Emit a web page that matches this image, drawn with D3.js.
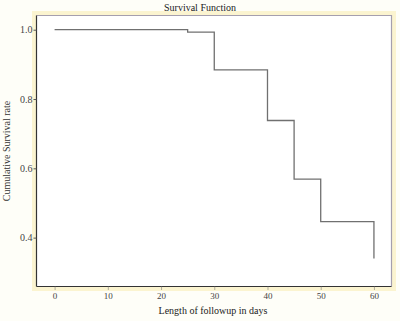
<!DOCTYPE html>
<html>
<head>
<meta charset="utf-8">
<script src="https://cdn.jsdelivr.net/npm/d3@7"></script>
<style>
  body { margin: 0; background: #fefef8; }
  svg { display: block; }
  text { font-family: "Liberation Serif", "DejaVu Serif", serif; }
</style>
</head>
<body>
<div id="chart"></div>
<script>
// step points of the survival curve (day, cumulative survival)
var days = [0, 25, 30, 40, 45, 50, 60];
var survival = [1.0, 0.993, 0.884, 0.738, 0.569, 0.446, 0.34];
var xTicks = [0, 10, 20, 30, 40, 50, 60];
var yTicks = [0.4, 0.6, 0.8, 1.0];

var outerWidth = 400,
    outerHeight = 321,
    margin = { top: 15.5, right: 8.5, bottom: 34.5, left: 36.5 },
    width = outerWidth - margin.left - margin.right,
    height = outerHeight - margin.top - margin.bottom;

var x = d3.scaleLinear()
    .domain([-3.4, 63.3])
    .range([0, width]);

var y = d3.scaleLinear()
    .domain([0.259, 1.041])
    .range([height, 0]);

var svg = d3.select("#chart").append("svg")
    .attr("width", outerWidth)
    .attr("height", outerHeight);

// soft yellow glow round the plot frame
svg.append("rect")
    .attr("x", margin.left - 2.5)
    .attr("y", margin.top - 2.5)
    .attr("width", width + 5)
    .attr("height", height + 5)
    .attr("fill", "none")
    .attr("stroke", "#fbf4d0")
    .attr("stroke-width", 4);

var g = svg.append("g")
    .attr("transform", "translate(" + margin.left + "," + margin.top + ")");

g.append("rect")
    .attr("width", width)
    .attr("height", height)
    .attr("fill", "#ffffff");

// top / right frame edges
g.append("path")
    .attr("d", "M0,0H" + width + "V" + height)
    .attr("fill", "none")
    .attr("stroke", "#a59fae")
    .attr("stroke-width", 1.2);

var xAxis = d3.axisBottom(x)
    .tickValues(xTicks)
    .tickSize(3)
    .tickPadding(3)
    .tickFormat(d3.format("d"));

var yAxis = d3.axisLeft(y)
    .tickValues(yTicks)
    .tickSize(3)
    .tickPadding(1)
    .tickFormat(d3.format(".1f"));

g.append("g")
    .attr("transform", "translate(0," + height + ")")
    .call(xAxis)
    .call(a => a.select(".domain").attr("d", "M0,0H" + width).attr("stroke", "#333").attr("stroke-width", 1.2))
    .call(a => a.selectAll(".tick line").attr("stroke", "#666").attr("stroke-dasharray", "1,1"))
    .call(a => a.selectAll(".tick text").attr("font-size", 9).attr("fill", "#444")
      .attr("font-family", "'Liberation Serif', serif"));

g.append("g")
    .call(yAxis)
    .call(a => a.select(".domain").attr("d", "M0,0V" + height).attr("stroke", "#333").attr("stroke-width", 1.2))
    .call(a => a.selectAll(".tick line").attr("stroke", "#555"))
    .call(a => a.selectAll(".tick text").attr("font-size", 10).attr("fill", "#444")
      .attr("font-family", "'Liberation Serif', serif"));

var pts = days.map((d, i) => [d, survival[i]]);
var line = d3.line()
    .x(d => x(d[0]))
    .y(d => y(d[1]))
    .curve(d3.curveStepAfter);

g.append("path")
    .attr("d", line(pts))
    .attr("fill", "none")
    .attr("stroke", "#707070")
    .attr("stroke-width", 1.3);

svg.append("text")
    .attr("x", 200)
    .attr("y", 11)
    .attr("text-anchor", "middle")
    .attr("font-size", 10)
    .attr("fill", "#222")
    .text("Survival Function");

svg.append("text")
    .attr("transform", "translate(10," + (margin.top + height / 2) + ") rotate(-90)")
    .attr("text-anchor", "middle")
    .attr("font-size", 10)
    .attr("fill", "#333")
    .text("Cumulative Survival rate");

svg.append("text")
    .attr("x", 213)
    .attr("y", 314)
    .attr("text-anchor", "middle")
    .attr("font-size", 10)
    .attr("fill", "#222")
    .text("Length of followup in days");
</script>
</body>
</html>
